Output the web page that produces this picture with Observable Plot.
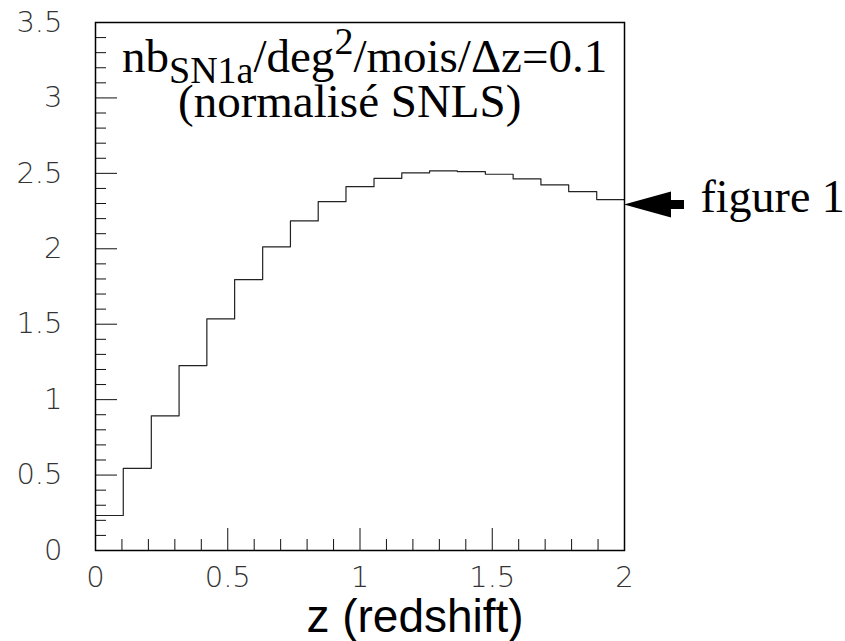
<!DOCTYPE html>
<html>
<head>
<meta charset="utf-8">
<script src="https://cdn.jsdelivr.net/npm/d3@7"></script>
<script src="https://cdn.jsdelivr.net/npm/@observablehq/plot@0.6"></script>
<style>
  html, body { margin: 0; padding: 0; background: #fff; }
  svg { display: block; }
</style>
</head>
<body>
<div id="chart"></div>
<script>
// Histogram bins (z lower edges; last entry is the upper edge of the last bin)
const binEdges = [0, 0.105, 0.211, 0.316, 0.421, 0.526, 0.632, 0.737, 0.842, 0.947,
                  1.053, 1.158, 1.263, 1.368, 1.474, 1.579, 1.684, 1.789, 1.895, 2.0];
// Counts per bin (nb SN1a / deg^2 / mois / Δz=0.1)
const binValues = [0.232, 0.545, 0.893, 1.226, 1.535, 1.796, 2.013, 2.185, 2.313, 2.412,
                   2.467, 2.503, 2.516, 2.512, 2.494, 2.463, 2.423, 2.379, 2.326];

const xMajorTicks = [0, 0.5, 1, 1.5, 2];
const xTickLabels = ["0", "0.5", "1", "1.5", "2"];
const xMinorTicks = [0.1, 0.2, 0.3, 0.4, 0.6, 0.7, 0.8, 0.9, 1.1, 1.2, 1.3, 1.4, 1.6, 1.7, 1.8, 1.9];
const yMajorTicks = [0, 0.5, 1, 1.5, 2, 2.5, 3, 3.5];
const yTickLabels = ["0", "0.5", "1", "1.5", "2", "2.5", "3", "3.5"];
const yMinorTicks = [0.1, 0.2, 0.3, 0.4, 0.6, 0.7, 0.8, 0.9, 1.1, 1.2, 1.3, 1.4, 1.6, 1.7, 1.8, 1.9,
                     2.1, 2.2, 2.3, 2.4, 2.6, 2.7, 2.8, 2.9, 3.1, 3.2, 3.3, 3.4];

const xLabel = "z (redshift)";
const titleLine2 = "(normalisé SNLS)";
const arrowLabel = "figure 1";
const arrowTarget = [{z: 2, v: 2.29}];

// Step-line points built from the arrays
const steps = binValues.map((v, i) => ({z: binEdges[i], v}));
steps.push({z: binEdges[binEdges.length - 1], v: binValues[binValues.length - 1]});

const tickFont = "DejaVu Sans";
const plot = Plot.plot({
  width: 845,
  height: 641,
  marginLeft: 95,
  marginRight: 221,
  marginTop: 22,
  marginBottom: 91,
  style: {background: "#fff", fontFamily: tickFont},
  x: {domain: [0, 2]},
  y: {domain: [0, 3.5]},
  marks: [
    Plot.line(steps, {x: "z", y: "v", curve: "step-after", stroke: "#222", strokeWidth: 1.2}),
    // inward ticks
    Plot.axisY(yMajorTicks, {anchor: "left", tickSize: -22, tickFormat: () => "", label: null, stroke: "#111"}),
    Plot.axisY(yMinorTicks, {anchor: "left", tickSize: -11, tickFormat: () => "", label: null, stroke: "#111"}),
    Plot.axisX(xMajorTicks, {anchor: "bottom", tickSize: -22, tickFormat: () => "", label: null, stroke: "#111"}),
    Plot.axisX(xMinorTicks, {anchor: "bottom", tickSize: -11, tickFormat: () => "", label: null, stroke: "#111"}),
    // tick labels
    Plot.axisY(yMajorTicks, {anchor: "left", tickSize: 0, tickPadding: 33, label: null,
      tickFormat: d => yTickLabels[yMajorTicks.indexOf(d)], fontSize: 29, fontWeight: 200, fill: "#333"}),
    Plot.axisX(xMajorTicks, {anchor: "bottom", tickSize: 0, tickPadding: 16, label: null,
      tickFormat: d => xTickLabels[xMajorTicks.indexOf(d)], fontSize: 29, fontWeight: 200, fill: "#333"}),
    Plot.frame({stroke: "#000", strokeWidth: 1.5}),
    Plot.text([xLabel], {text: d => d, frameAnchor: "bottom", dx: 55, dy: 81, lineAnchor: "bottom",
      fontSize: 46, fontFamily: "Liberation Sans", fill: "#000"}),
    Plot.text(arrowTarget, {x: "z", y: "v", text: () => arrowLabel, dx: 76, dy: -8, textAnchor: "start",
      fontSize: 46, fontFamily: "Liberation Serif", fill: "#000"})
  ]
});
document.getElementById("chart").appendChild(plot);

// Annotations using the plot's own scales
const sx = plot.scale("x"), sy = plot.scale("y");
const svg = d3.select(plot);
const tx = sx.apply(arrowTarget[0].z), ty = sy.apply(arrowTarget[0].v);
svg.append("path")
  .attr("d", `M${tx},${ty} L${tx + 47},${ty - 13} L${tx + 47},${ty - 4.5} L${tx + 60},${ty - 4.5} L${tx + 60},${ty + 4.5} L${tx + 47},${ty + 4.5} L${tx + 47},${ty + 13} Z`)
  .attr("fill", "#000");

const x0 = sx.apply(0), yTop = sy.apply(3.5);
const t1 = svg.append("text")
  .attr("x", x0 + 27).attr("y", yTop + 50)
  .attr("text-anchor", "start")
  .attr("font-family", "Liberation Serif").attr("font-size", 47).attr("fill", "#000");
t1.append("tspan").text("nb");
t1.append("tspan").attr("font-size", 38).attr("dy", 10.5).text("SN1a");
t1.append("tspan").attr("dy", -10.5).text("/deg");
t1.append("tspan").attr("font-size", 38).attr("dy", -18).text("2");
t1.append("tspan").attr("dy", 18).text("/mois/Δz=0.1");
svg.append("text")
  .attr("x", x0 + 83).attr("y", yTop + 95)
  .attr("text-anchor", "start")
  .attr("font-family", "Liberation Serif").attr("font-size", 47).attr("fill", "#000")
  .text(titleLine2);
</script>
</body>
</html>
